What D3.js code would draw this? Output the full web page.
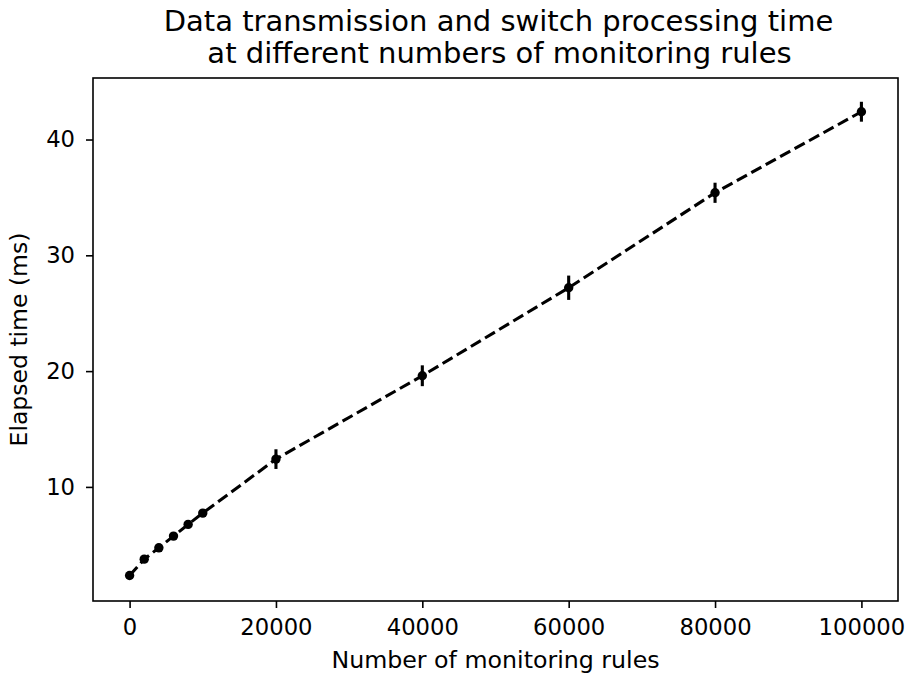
<!DOCTYPE html>
<html>
<head>
<meta charset="utf-8">
<script src="https://cdn.jsdelivr.net/npm/d3@7"></script>
<style>
body{margin:0;background:#fff;}
text{font-family:"DejaVu Sans",sans-serif;fill:#000;}
</style>
</head>
<body>
<div id="chart"></div>
<script>
var width=907,height=675,
    margin={left:93,top:78,right:9,bottom:74};

// data
var rules=[0,2000,4000,6000,8000,10000,20000,40000,60000,80000,100000];
var elapsed=[2.35,3.76,4.74,5.75,6.76,7.74,12.4,19.6,27.2,35.4,42.4];
var errors=[0.15,0.15,0.15,0.15,0.15,0.15,0.85,0.9,1.05,0.87,0.86];
var xTicks=[0,20000,40000,60000,80000,100000];
var yTicks=[10,20,30,40];
var titleLines=['Data transmission and switch processing time','at different numbers of monitoring rules'];

var svg=d3.select('#chart')
    .append('svg')
    .attr('width',width)
    .attr('height',height);

var w=width-margin.left-margin.right,
    h=height-margin.top-margin.bottom;

var g=svg.append('g')
    .attr('transform','translate('+margin.left+','+margin.top+')');

// matplotlib style 5% margins
var xmin=d3.min(rules),xmax=d3.max(rules),xpad=(xmax-xmin)*0.05;
var lo=d3.min(elapsed,function(d,i){return d-errors[i];}),
    hi=d3.max(elapsed,function(d,i){return d+errors[i];}),
    ypad=(hi-lo)*0.05;

var x=d3.scaleLinear().domain([xmin-xpad,xmax+xpad]).range([0,w]);
var y=d3.scaleLinear().domain([lo-ypad,hi+ypad]).range([h,0]);

var xAxis=d3.axisBottom(x).tickValues(xTicks).tickFormat(d3.format('d')).tickSize(7).tickPadding(11);
var yAxis=d3.axisLeft(y).tickValues(yTicks).tickSize(7).tickPadding(11);

var gx=g.append('g').attr('transform','translate(0,'+h+')').call(xAxis);
var gy=g.append('g').call(yAxis);
[gx,gy].forEach(function(a){
    a.select('.domain').remove();
    a.selectAll('.tick line').attr('stroke','#000').attr('stroke-width',1.6);
    a.selectAll('.tick text').style('font-size','22.7px').style('font-family','"DejaVu Sans",sans-serif');
});

// frame
g.append('rect')
    .attr('x',0).attr('y',0)
    .attr('width',w).attr('height',h)
    .attr('fill','none')
    .attr('stroke','#000')
    .attr('stroke-width',1.6);

var pts=rules.map(function(r,i){return {x:r,y:elapsed[i],e:errors[i]};});

// dashed line
g.append('path')
    .datum(pts)
    .attr('fill','none')
    .attr('stroke','#000')
    .attr('stroke-width',3.1)
    .attr('stroke-dasharray','11.5,5')
    .attr('d',d3.line().x(function(d){return x(d.x);}).y(function(d){return y(d.y);}));

// error bars
g.selectAll('.err')
    .data(pts)
    .enter().append('line')
    .attr('x1',function(d){return x(d.x);})
    .attr('x2',function(d){return x(d.x);})
    .attr('y1',function(d){return y(d.y-d.e);})
    .attr('y2',function(d){return y(d.y+d.e);})
    .attr('stroke','#000')
    .attr('stroke-width',3.1);

// markers
g.selectAll('.dot')
    .data(pts)
    .enter().append('circle')
    .attr('cx',function(d){return x(d.x);})
    .attr('cy',function(d){return y(d.y);})
    .attr('r',4.7)
    .attr('fill','#000');

// title, two lines in one text element
var title=svg.append('text')
    .attr('text-anchor','middle')
    .style('font-size','29px');
title.selectAll('tspan')
    .data(titleLines)
    .enter().append('tspan')
    .attr('x',function(d,i){return margin.left+w/2+3+i;})
    .attr('y',function(d,i){return 31+i*32;})
    .text(function(d){return d;});

svg.append('text')
    .attr('x',margin.left+w/2).attr('y',668)
    .attr('text-anchor','middle')
    .style('font-size','23.7px')
    .text('Number of monitoring rules');

svg.append('text')
    .attr('transform','translate(27,'+(margin.top+h/2)+') rotate(-90)')
    .attr('text-anchor','middle')
    .style('font-size','23.5px')
    .text('Elapsed time (ms)');
</script>
</body>
</html>
